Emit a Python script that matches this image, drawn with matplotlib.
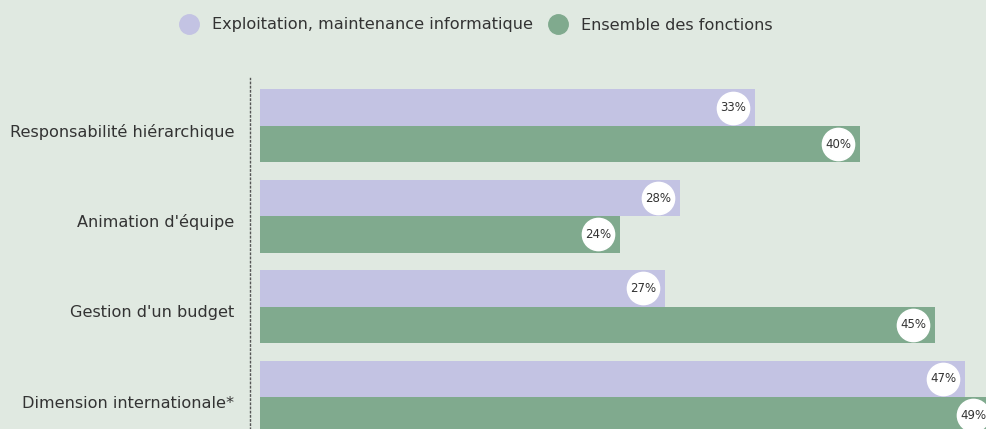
import numpy as np
import matplotlib.pyplot as plt
from matplotlib.lines import Line2D

categories = ["Responsabilité hiérarchique", "Animation d'équipe",
              "Gestion d'un budget", "Dimension internationale*"]
exploitation = [33, 28, 27, 47]
ensemble = [40, 24, 45, 49]
series_names = ["Exploitation, maintenance informatique", "Ensemble des fonctions"]

BG = "#e0e9e1"
LAVENDER = "#c3c3e3"
GREEN = "#80aa8e"
TEXT = "#333333"

fig = plt.figure(figsize=(9.87, 4.29), dpi=100, facecolor=BG)
ax = fig.add_axes([250 / 987, 0, 737 / 987, 351 / 429])
ax.set_facecolor(BG)

y = np.arange(len(categories))
h = 0.403
ax.barh(y - h / 2, exploitation, height=h, color=LAVENDER, zorder=2)
ax.barh(y + h / 2, ensemble, height=h, color=GREEN, zorder=2)

# white value bubbles near the end of each bar
for vals, off in [(exploitation, -h / 2), (ensemble, h / 2)]:
    for i, v in enumerate(vals):
        ax.scatter(v - 1.47, i + off, s=540, color="white", zorder=3, clip_on=False)
        ax.text(v - 1.47, i + off, f"{v}%", ha="center", va="center",
                fontsize=8.5, color=TEXT, zorder=4)

ax.set_xlim(-10 / 15, 727 / 15)
ax.set_ylim(3.354, -0.53)
ax.set_yticks(y + 0.05)
ax.set_yticklabels(categories, fontsize=11.6, color=TEXT)
ax.tick_params(axis="y", length=0, pad=11.5)
ax.set_xticks([])
for side in ["top", "right", "bottom"]:
    ax.spines[side].set_visible(False)
ax.spines["left"].set_linestyle((0, (1, 2)))
ax.spines["left"].set_color("#555555")
ax.spines["left"].set_linewidth(1)

handles = [Line2D([], [], marker="o", linestyle="", markersize=14, color=c)
           for c in (LAVENDER, GREEN)]
fig.legend(handles, series_names, loc="center", bbox_to_anchor=(476 / 987, 1 - 25 / 429),
           ncol=2, frameon=False, fontsize=11.6, labelcolor=TEXT,
           handletextpad=0.85, columnspacing=0.9, handlelength=1.2)

fig.savefig("out.png", dpi=100, facecolor=BG)
